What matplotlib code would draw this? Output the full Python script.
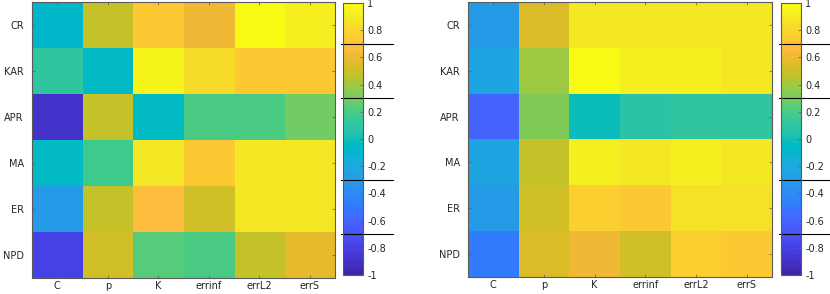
import numpy as np
import matplotlib
matplotlib.use("Agg")
import matplotlib.pyplot as plt
from matplotlib.colors import ListedColormap

# MATLAB parula(64)
parula_rgb = [
    [0.2422, 0.1504, 0.6603], [0.2504, 0.1650, 0.7076], [0.2578, 0.1818, 0.7511], [0.2647, 0.1978, 0.7952],
    [0.2706, 0.2147, 0.8364], [0.2751, 0.2342, 0.8710], [0.2783, 0.2559, 0.8991], [0.2803, 0.2782, 0.9221],
    [0.2813, 0.3006, 0.9414], [0.2810, 0.3228, 0.9579], [0.2795, 0.3447, 0.9717], [0.2760, 0.3667, 0.9829],
    [0.2699, 0.3892, 0.9906], [0.2602, 0.4123, 0.9952], [0.2440, 0.4358, 0.9988], [0.2206, 0.4603, 0.9973],
    [0.1963, 0.4847, 0.9892], [0.1834, 0.5074, 0.9798], [0.1786, 0.5289, 0.9682], [0.1764, 0.5499, 0.9520],
    [0.1687, 0.5703, 0.9359], [0.1540, 0.5902, 0.9218], [0.1460, 0.6091, 0.9079], [0.1380, 0.6276, 0.8973],
    [0.1248, 0.6459, 0.8883], [0.1113, 0.6635, 0.8763], [0.0952, 0.6798, 0.8598], [0.0689, 0.6948, 0.8394],
    [0.0297, 0.7082, 0.8163], [0.0036, 0.7203, 0.7917], [0.0067, 0.7312, 0.7660], [0.0433, 0.7411, 0.7394],
    [0.0964, 0.7500, 0.7120], [0.1408, 0.7584, 0.6842], [0.1717, 0.7670, 0.6554], [0.1938, 0.7758, 0.6251],
    [0.2161, 0.7843, 0.5923], [0.2470, 0.7918, 0.5567], [0.2906, 0.7973, 0.5188], [0.3406, 0.8008, 0.4789],
    [0.3909, 0.8029, 0.4354], [0.4456, 0.8024, 0.3909], [0.5044, 0.7993, 0.3480], [0.5616, 0.7942, 0.3045],
    [0.6174, 0.7876, 0.2612], [0.6720, 0.7793, 0.2227], [0.7242, 0.7698, 0.1910], [0.7738, 0.7598, 0.1646],
    [0.8203, 0.7498, 0.1535], [0.8634, 0.7406, 0.1596], [0.9035, 0.7330, 0.1774], [0.9393, 0.7288, 0.2100],
    [0.9728, 0.7298, 0.2394], [0.9956, 0.7434, 0.2371], [0.9970, 0.7659, 0.2199], [0.9952, 0.7893, 0.2028],
    [0.9892, 0.8136, 0.1885], [0.9786, 0.8386, 0.1766], [0.9676, 0.8639, 0.1643], [0.9610, 0.8890, 0.1537],
    [0.9597, 0.9135, 0.1423], [0.9628, 0.9373, 0.1265], [0.9691, 0.9606, 0.1064], [0.9769, 0.9839, 0.0805],
]
parula = ListedColormap(parula_rgb, name="parula")

rows = ["CR", "KAR", "APR", "MA", "ER", "NPD"]
cols = ["C", "p", "K", "errinf", "errL2", "errS"]

corr_left = np.array([
    [-0.08, 0.47, 0.72, 0.62, 0.98, 0.93],
    [0.10, -0.06, 0.95, 0.82, 0.74, 0.72],
    [-0.88, 0.48, -0.06, 0.20, 0.20, 0.30],
    [-0.06, 0.18, 0.90, 0.74, 0.88, 0.90],
    [-0.30, 0.47, 0.66, 0.50, 0.88, 0.90],
    [-0.80, 0.50, 0.22, 0.20, 0.48, 0.58],
])

corr_right = np.array([
    [-0.30, 0.56, 0.88, 0.88, 0.88, 0.88],
    [-0.22, 0.40, 0.97, 0.93, 0.93, 0.90],
    [-0.62, 0.33, -0.03, 0.08, 0.10, 0.10],
    [-0.24, 0.48, 0.92, 0.88, 0.93, 0.90],
    [-0.30, 0.52, 0.76, 0.72, 0.85, 0.86],
    [-0.50, 0.55, 0.62, 0.52, 0.75, 0.72],
])

cbar_ticks = [-1, -0.8, -0.6, -0.4, -0.2, 0, 0.2, 0.4, 0.6, 0.8, 1]
cbar_labels = ["-1", "-0.8", "-0.6", "-0.4", "-0.2", "0", "0.2", "0.4", "0.6", "0.8", "1"]
thresholds = [0.7, 0.3, -0.3, -0.7]

W, H = 830, 294
fig = plt.figure(figsize=(W / 100, H / 100), dpi=100)
txt = "#262626"
edge = "#5a5a5a"


def px(l, t, r, b):
    return [l / W, 1 - b / H, (r - l) / W, (b - t) / H]


def draw(data, ax_box, cb_box, line_span):
    ax = fig.add_axes(px(*ax_box))
    im = ax.imshow(data, cmap=parula, vmin=-1, vmax=1, aspect="auto", interpolation="nearest")
    ax.set_xticks(range(len(cols)))
    ax.set_xticklabels(cols)
    ax.set_yticks(range(len(rows)))
    ax.set_yticklabels(rows)
    ax.tick_params(direction="in", top=True, right=True, length=2.5, width=0.5,
                   color=edge, labelsize=7, labelcolor=txt)
    ax.tick_params(axis="y", pad=6)
    ax.tick_params(axis="x", pad=2.5)
    for s in ax.spines.values():
        s.set_color(edge)
        s.set_linewidth(0.8)

    cax = fig.add_axes(px(*cb_box))
    cb = fig.colorbar(im, cax=cax)
    cb.set_ticks(cbar_ticks)
    cb.set_ticklabels(cbar_labels)
    cax.tick_params(direction="in", length=2.5, width=0.5, color=edge,
                    labelsize=7, labelcolor=txt, pad=3)
    cb.outline.set_edgecolor(edge)
    cb.outline.set_linewidth(0.8)
    for t in thresholds:
        cax.axhline(t, xmin=-0.1, xmax=line_span, color="black", lw=0.8, clip_on=False)
    return ax


draw(corr_left, (32, 2, 335, 278), (343, 3, 363, 275), 2.5)
draw(corr_right, (468, 2, 772, 277), (781, 3, 801, 275), 2.7)

fig.savefig("out.png", dpi=100, facecolor="white")
